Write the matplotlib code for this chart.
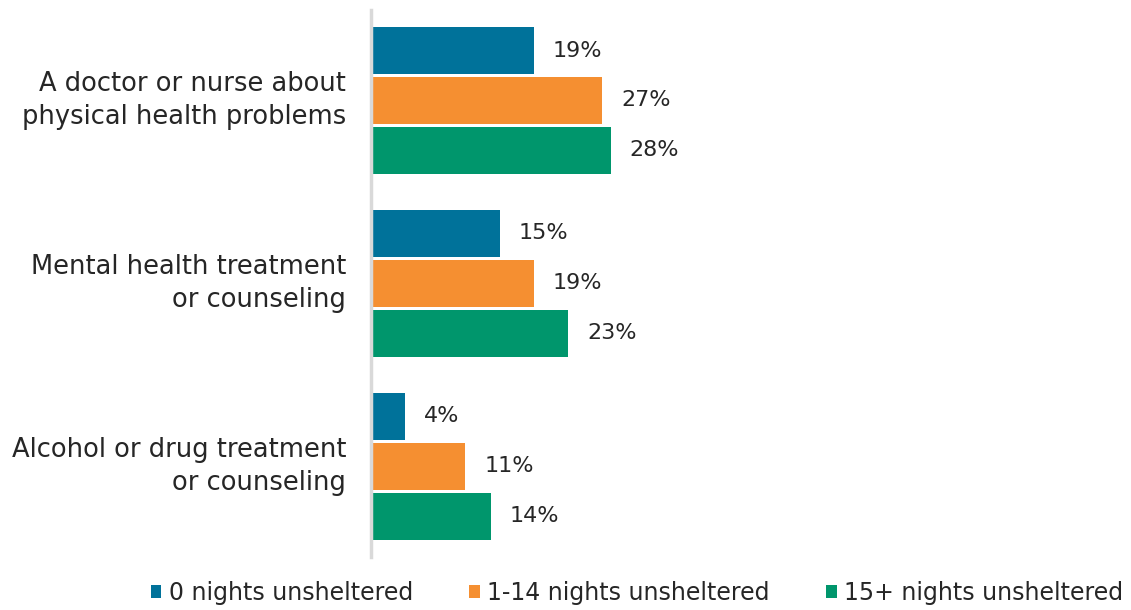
import matplotlib
matplotlib.use('Agg')
import matplotlib.pyplot as plt
import numpy as np

categories = ['A doctor or nurse about\nphysical health problems',
              'Mental health treatment\nor counseling',
              'Alcohol or drug treatment\nor counseling']
series_names = ['0 nights unsheltered', '1-14 nights unsheltered', '15+ nights unsheltered']
nights_0 = [19, 15, 4]
nights_1_14 = [27, 19, 11]
nights_15_plus = [28, 23, 14]
colors = ['#00729A', '#F58F31', '#00966C']

plt.rcParams['font.family'] = ['DejaVu Sans']

fig = plt.figure(figsize=(11.31, 6.10), dpi=100)
ax = fig.add_axes([371 / 1131, 1 - 557 / 610, 740 / 1131, 547 / 610])

y = np.arange(len(categories))
bar_h = 47 / 183
step = 50 / 183
series = [nights_0, nights_1_14, nights_15_plus]
for i, (vals, name, c) in enumerate(zip(series, series_names, colors)):
    pos = y + (i - 1) * step
    ax.barh(pos, vals, height=bar_h, color=c, label=name)
    for p, v in zip(pos, vals):
        ax.text(v + 2.2, p, f'{v}%', va='center', ha='left', fontsize=16, color='#262626')

ax.set_xlim(0, 740 / 8.57)
ax.set_ylim(2.497, -0.495)
ax.set_yticks(y)
ax.set_yticklabels(categories, fontsize=18.5, color='#262626', ha='right', va='center',
                   linespacing=1.35)
ax.tick_params(axis='y', length=0, pad=18)
ax.set_xticks([])
for s in ['top', 'right', 'bottom']:
    ax.spines[s].set_visible(False)
ax.spines['left'].set_color('#d9d9d9')
ax.spines['left'].set_linewidth(2.5)

ax.legend(loc='center', bbox_to_anchor=(637 / 1131, 1 - 593 / 610), bbox_transform=fig.transFigure,
          ncol=3, frameon=False, fontsize=17, handlelength=0.45, handleheight=0.45,
          handletextpad=0.3, columnspacing=2.4, labelcolor='#262626')

fig.savefig('out.png', dpi=100)
